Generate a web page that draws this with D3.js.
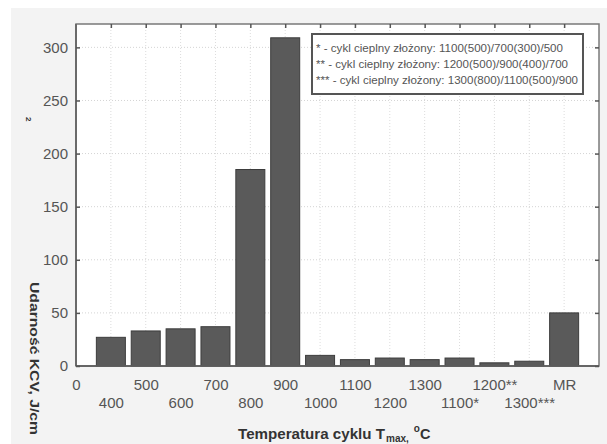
<!DOCTYPE html>
<html><head><meta charset="utf-8">
<script src="https://cdn.jsdelivr.net/npm/d3@7"></script>
<style>body{margin:0;background:#fff}svg{display:block}</style>
</head><body>
<script>
const categories = ["400","500","600","700","800","900","1000","1100","1200","1300","1100*","1200**","1300***","MR"];
const values = [27, 33, 35, 37, 185, 309, 10, 6, 7.5, 6, 7.5, 3, 4.5, 50];
const yTicks = [0, 50, 100, 150, 200, 250, 300];
const legendLines = [
  "* - cykl cieplny złożony: 1100(500)/700(300)/500",
  "** - cykl cieplny złożony: 1200(500)/900(400)/700",
  "*** - cykl cieplny złożony: 1300(800)/1100(500)/900"
];

const W = 607, H = 444;
const L = 76, T = 24, R = 599, B = 366;
const svg = d3.select("body").append("svg").attr("width", W).attr("height", H);
svg.append("rect").attr("x", 11).attr("y", 8).attr("width", W - 11).attr("height", H - 8).attr("fill", "#f3f3f3");
svg.append("rect").attr("x", L).attr("y", T).attr("width", R - L).attr("height", B - T).attr("fill", "#fff");

const x = d3.scaleLinear().domain([0, 15]).range([L, R]);
const y = d3.scaleLinear().domain([0, 322]).range([B, T]);
const idx = d3.range(1, categories.length + 1);
const bw = 29;

// grid
svg.append("g").selectAll("line").data(idx).join("line")
  .attr("x1", d => x(d)).attr("x2", d => x(d)).attr("y1", T).attr("y2", B)
  .attr("stroke", "#dcdcdc").attr("stroke-width", 1).attr("stroke-dasharray", "1,2");
svg.append("g").selectAll("line").data(yTicks.slice(1)).join("line")
  .attr("x1", L).attr("x2", R).attr("y1", d => y(d)).attr("y2", d => y(d))
  .attr("stroke", "#d4d4d4").attr("stroke-width", 1).attr("stroke-dasharray", "1,2");

// bars
svg.append("g").selectAll("rect").data(values).join("rect")
  .attr("x", (d, i) => x(i + 1) - bw / 2).attr("width", bw)
  .attr("y", d => y(d)).attr("height", d => B - y(d))
  .attr("fill", "#5a5a5a").attr("stroke", "#3c3c3c").attr("stroke-width", 1);

// frame
svg.append("rect").attr("x", L).attr("y", T).attr("width", R - L).attr("height", B - T)
  .attr("fill", "none").attr("stroke", "#7a7a7a").attr("stroke-width", 1.5);
svg.append("line").attr("x1", L).attr("x2", L).attr("y1", T).attr("y2", B).attr("stroke", "#6a6a6a").attr("stroke-width", 2);
svg.append("line").attr("x1", L).attr("x2", R).attr("y1", B).attr("y2", B).attr("stroke", "#555").attr("stroke-width", 1.5);

// axes (inner ticks)
const yAxisL = d3.axisLeft(y).tickValues(yTicks).tickSize(-4).tickPadding(8);
const gl = svg.append("g").attr("transform", `translate(${L},0)`).call(yAxisL);
const yAxisR = d3.axisRight(y).tickValues(yTicks).tickSize(-4).tickFormat("");
const gr = svg.append("g").attr("transform", `translate(${R},0)`).call(yAxisR);
const xAxisT = d3.axisTop(x).tickValues(idx).tickSize(-4).tickFormat("");
const gt = svg.append("g").attr("transform", `translate(0,${T})`).call(xAxisT);
[gl, gr, gt].forEach(g => { g.select(".domain").remove(); g.selectAll(".tick line").attr("stroke", "#555").attr("stroke-width", 1.5); });
gl.selectAll("text").attr("font-family", "Liberation Sans, Arial, sans-serif").attr("font-size", 15).attr("fill", "#555");

// x tick labels, alternating rows
const xLabels = ["0"].concat(categories);
const xAxisB = d3.axisBottom(x).tickValues(d3.range(0, xLabels.length)).tickSize(0).tickFormat(d => xLabels[d]);
const gb = svg.append("g").attr("transform", `translate(0,${B})`).call(xAxisB);
gb.select(".domain").remove();
gb.selectAll("text").attr("font-family", "Liberation Sans, Arial, sans-serif").attr("font-size", 15).attr("fill", "#555")
  .attr("y", d => d % 2 === 0 ? 13 : 31).attr("dy", "0.71em");

// legend
const lg = svg.append("g");
lg.append("rect").attr("x", 312).attr("y", 34).attr("width", 271).attr("height", 60)
  .attr("fill", "#fff").attr("stroke", "#555").attr("stroke-width", 2);
const lens = [247, 252, 262];
lg.selectAll("text").data(legendLines).join("text")
  .attr("x", 316).attr("y", (d, i) => 52 + i * 16)
  .attr("font-family", "Liberation Sans, Arial, sans-serif").attr("font-size", 10.5).attr("fill", "#555")
  .attr("textLength", (d, i) => lens[i]).attr("lengthAdjust", "spacingAndGlyphs")
  .text(d => d);

// y title
svg.append("text").attr("transform", "translate(30,282) rotate(90)")
  .attr("font-family", "Liberation Sans, Arial, sans-serif").attr("font-size", 13).attr("font-weight", "bold").attr("fill", "#333")
  .attr("textLength", 153).attr("lengthAdjust", "spacingAndGlyphs")
  .text("Udarność KCV, J/cm");
svg.append("text").attr("transform", "translate(26,117) rotate(90)")
  .attr("font-family", "Liberation Sans, Arial, sans-serif").attr("font-size", 8).attr("font-weight", "bold").attr("fill", "#333")
  .text("2");

// x title
const xt = svg.append("text").attr("x", 238).attr("y", 439)
  .attr("font-family", "Liberation Sans, Arial, sans-serif").attr("font-size", 14.5).attr("font-weight", "bold").attr("fill", "#333");
xt.append("tspan").attr("textLength", 147).attr("lengthAdjust", "spacingAndGlyphs").text("Temperatura cyklu T");
xt.append("tspan").attr("font-size", 10).attr("dy", 3).attr("dx", 1).text("max");
xt.append("tspan").attr("font-size", 10).text(",");
xt.append("tspan").attr("font-size", 10).attr("dy", -10).attr("dx", 5).text("o");
xt.append("tspan").attr("dy", 7).text("C");
</script>
</body></html>
